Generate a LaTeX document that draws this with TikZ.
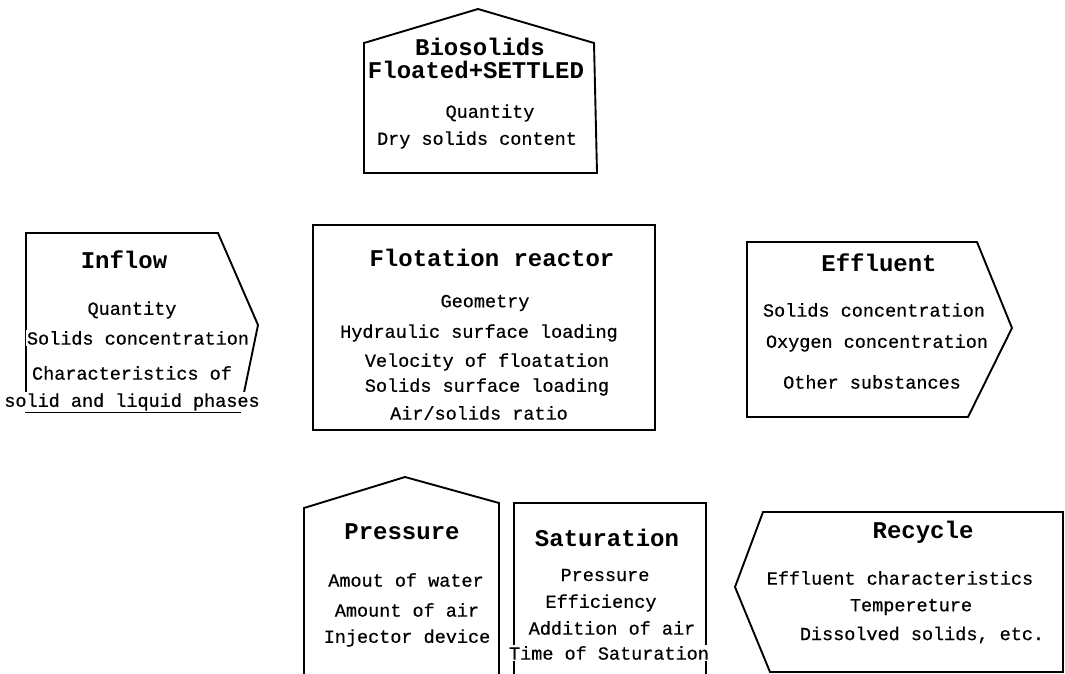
\documentclass[tikz,border=0pt]{standalone}
\usepackage{fontspec}
\setmainfont{Liberation Mono}
\newfontfamily\itemfont{Liberation Mono}[FakeBold=0.6]
\begin{document}
\begin{tikzpicture}[x=1pt, y=-1pt, line join=miter]
    \tikzset{
      frame/.style={line width=1.9pt},
      title/.style={font=\fontsize{24}{26}\selectfont\bfseries, inner sep=1pt},
      item/.style={font=\fontsize{18.5}{21}\selectfont\itemfont, inner sep=1pt, fill=white},
    }
    \useasboundingbox (0,0) rectangle (1065,674);

    % Biosolids (house shape at the top)
    \draw[frame] (364,173) -- (364,43) -- (478,9) -- (594,43) -- (597,173) -- cycle;
    \node[title] (bioA) at (480,47) {Biosolids};
    \node[title] (bioB) at (476,70) {Floated+SETTLED};
    \node[item] (bioQ) at (490,113) {Quantity};
    \node[item] (bioD) at (477,140) {Dry solids content};

    % Inflow (arrow pointing right)
    \draw[frame] (26,233) -- (218,233) -- (258,325) -- (240,412) -- (26,412) -- cycle;
    \node[title] (inTitle) at (124,260) {Inflow};
    \node[item] (inQ) at (132,310) {Quantity};
    \node[item] (inS) at (138,338) {Solids concentration};
    \node[item] (inC) at (132,373) {Characteristics of};
    \node[item] (inL) at (132,402) {solid and liquid phases};

    % Flotation reactor (centre)
    \draw[frame] (313,225) rectangle (655,430);
    \node[title] (reTitle) at (492,258) {Flotation reactor};
    \node[item] (reG) at (485,303) {Geometry};
    \node[item] (reH) at (479,333) {Hydraulic surface loading};
    \node[item] (reV) at (487,362) {Velocity of floatation};
    \node[item] (reS) at (487,387) {Solids surface loading};
    \node[item] (reA) at (479,413) {Air/solids ratio};

    % Effluent (arrow pointing right)
    \draw[frame] (747,242) -- (977,242) -- (1012,328) -- (968,417) -- (747,417) -- cycle;
    \node[title] (efTitle) at (879,263) {Effluent};
    \node[item] (efS) at (874,310) {Solids concentration};
    \node[item] (efO) at (877,343) {Oxygen concentration};
    \node[item] (efT) at (872,382) {Other substances};

    % Pressure (house shape, open at the bottom)
    \draw[frame] (304,674) -- (304,508) -- (405,477) -- (499,503) -- (499,674);
    \node[title] (prTitle) at (402,532) {Pressure};
    \node[item] (prW) at (406,580) {Amout of water};
    \node[item] (prA) at (407,610) {Amount of air};
    \node[item] (prI) at (407,638) {Injector device};

    % Saturation (open at the bottom)
    \draw[frame] (514,674) -- (514,503) -- (706,503) -- (706,674);
    \node[title] (saTitle) at (607,538) {Saturation};
    \node[item] (saP) at (605,575) {Pressure};
    \node[item] (saE) at (601,603) {Efficiency};
    \node[item] (saA) at (612,628) {Addition of air};
    \node[item] (saT) at (609,653) {Time of Saturation};

    % Recycle (arrow pointing left)
    \draw[frame] (1063,512) -- (763,512) -- (735,587) -- (770,672) -- (1063,672) -- cycle;
    \node[title] (reyTitle) at (923,532) {Recycle};
    \node[item] (reyE) at (900,578) {Effluent characteristics};
    \node[item] (reyT) at (911,607) {Tempereture};
    \node[item] (reyD) at (922,635) {Dissolved solids, etc.};
\end{tikzpicture}
\end{document}
